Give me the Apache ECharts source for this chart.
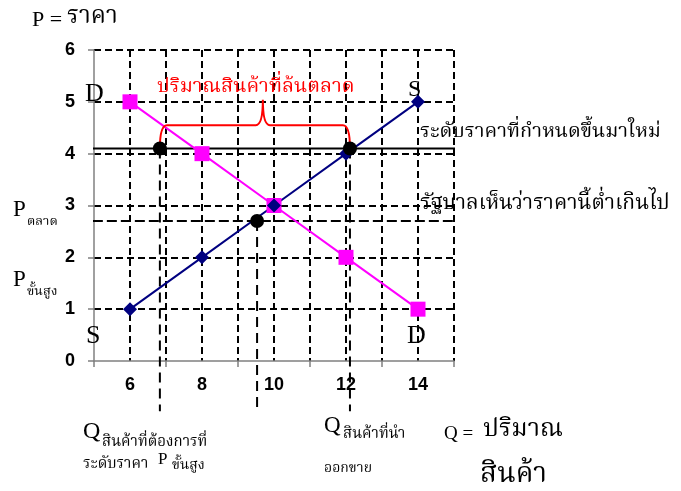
<!DOCTYPE html>
<html><head><meta charset="utf-8">
<script src="https://cdn.jsdelivr.net/npm/echarts@6/dist/echarts.min.js"></script>
<style>html,body{margin:0;padding:0;background:#fff}#c{width:681px;height:491px}</style>
</head><body><div id="c"></div>
<script>
// ---- data ----
const categories = ['6', '8', '10', '12', '14'];
const quantities = [6, 8, 10, 12, 14];
const supplyPrice = [1, 2, 3, 4, 5];
const demandPrice = [5, 4, 3, 2, 1];
const ceilingPrice = 4.1;          // ระดับราคาที่กำหนดขึ้นมาใหม่
const marketPrice = 2.7;           // P ตลาด
const qDemandAtCeiling = 6.83;
const qSupplyAtCeiling = 12.11;
const qMarket = 9.53;
const ceilingLineQ = [4.39, 15.53];
const marketLineQ = [4.19, 15.53];
const dropLineBottomP = -0.97;
const bracketBarP = 4.55;
const bracketPeakP = 5.04;
const bracketPeakQ = 9.69;
const yTicks = [0, 1, 2, 3, 4, 5, 6];

const THAI = '"Noto Serif Thai","Norasi","Kinnari","Noto Sans Thai","Loma","Garuda","TlwgTypo","DejaVu Sans",serif';
const SERIF = '"Liberation Serif","Times New Roman",' + THAI;

function T(text, x, base, size, opts) {
  opts = opts || {};
  return {
    type: 'text', x: x, y: base - 0.33 * size, silent: true, z: 100,
    style: {
      text: text, font: (opts.weight || 'normal') + ' ' + size + 'px ' + (opts.family || SERIF),
      fill: opts.color || '#000', verticalAlign: 'middle', align: opts.align || 'left'
    }
  };
}

const chart = echarts.init(document.getElementById('c'), null, {renderer: 'canvas'});

const dropLines = [qDemandAtCeiling, qMarket, qSupplyAtCeiling].map(function (q, i) {
  const top = i === 1 ? marketPrice : ceilingPrice;
  return {
    type: 'line', xAxisIndex: 1, yAxisIndex: 0, clip: false, symbol: 'none', z: 4,
    data: [[q, top], [q, dropLineBottomP]],
    lineStyle: {color: '#000', width: 2, type: [10, 6]}
  };
});

const labelFont = '"Liberation Sans", Arial, sans-serif';

const option = {
  animation: false,
  backgroundColor: '#fff',
  grid: {left: 94, right: 227, top: 50, bottom: 130},
  xAxis: [
    {
      type: 'category', data: categories, boundaryGap: true, position: 'bottom',
      axisLine: {lineStyle: {color: '#808080', width: 1.5}},
      axisTick: {show: true, length: 6, lineStyle: {color: '#808080', width: 1.5}},
      axisLabel: {margin: 15, color: '#000', fontWeight: 'bold', fontSize: 18, fontFamily: labelFont},
      splitLine: {show: false}
    },
    {
      type: 'value', min: 5, max: 15, interval: 1, position: 'top',
      axisLine: {show: false}, axisTick: {show: false}, axisLabel: {show: false},
      splitLine: {show: true, showMinLine: false, showMaxLine: true, lineStyle: {color: '#000', width: 2, type: [7, 4]}}
    }
  ],
  yAxis: [{
    type: 'value', min: 0, max: 6, interval: 1,
    axisLine: {show: true, lineStyle: {color: '#808080', width: 1.5}},
    axisTick: {show: true, length: 6, lineStyle: {color: '#808080', width: 1.5}},
    axisLabel: {margin: 19, color: '#000', fontWeight: 'bold', fontSize: 18, fontFamily: labelFont,
      formatter: function (v) { return yTicks.indexOf(v) >= 0 ? String(v) : ''; }},
    splitLine: {show: true, showMinLine: false, showMaxLine: true, lineStyle: {color: '#000', width: 2, type: [7, 4]}}
  }],
  series: [
    {
      name: 'ceiling', type: 'line', xAxisIndex: 1, yAxisIndex: 0, clip: false, symbol: 'none', z: 3,
      data: [[ceilingLineQ[0], ceilingPrice], [ceilingLineQ[1], ceilingPrice]],
      lineStyle: {color: '#000', width: 2}
    },
    {
      name: 'market', type: 'line', xAxisIndex: 1, yAxisIndex: 0, clip: false, symbol: 'none', z: 3,
      data: [[marketLineQ[0], marketPrice], [marketLineQ[1], marketPrice]],
      lineStyle: {color: '#000', width: 2, type: [10, 4]}
    }
  ].concat(dropLines).concat([
    {
      name: 'D', type: 'line', xAxisIndex: 1, yAxisIndex: 0, z: 5,
      data: quantities.map(function (q, i) { return [q, demandPrice[i]]; }),
      lineStyle: {color: '#ff00ff', width: 2}, itemStyle: {color: '#ff00ff'},
      symbol: 'rect', symbolSize: 15
    },
    {
      name: 'S', type: 'line', xAxisIndex: 1, yAxisIndex: 0, z: 5,
      data: quantities.map(function (q, i) { return [q, supplyPrice[i]]; }),
      lineStyle: {color: '#000080', width: 2}, itemStyle: {color: '#000080'},
      symbol: 'diamond', symbolSize: 14
    },
    {
      name: 'points', type: 'scatter', xAxisIndex: 1, yAxisIndex: 0, z: 6, symbolSize: 14,
      itemStyle: {color: '#000', opacity: 1},
      data: [[qDemandAtCeiling, ceilingPrice], [qSupplyAtCeiling, ceilingPrice], [qMarket, marketPrice]]
    },
    {
      name: 'bracket', type: 'custom', xAxisIndex: 1, yAxisIndex: 0, z: 6,
      data: [[qDemandAtCeiling, qSupplyAtCeiling, bracketPeakQ, ceilingPrice, bracketBarP, bracketPeakP]],
      renderItem: function (params, api) {
        const a = api.coord([api.value(0), api.value(3)]);
        const b = api.coord([api.value(1), api.value(3)]);
        const pk = api.coord([api.value(2), api.value(5)]);
        const yb = api.coord([api.value(0), api.value(4)])[1];
        const r = 7;
        const d = 'M' + a[0] + ',' + a[1] + ' Q' + a[0] + ',' + yb + ' ' + (a[0] + r) + ',' + yb +
          ' L' + (pk[0] - r) + ',' + yb + ' Q' + pk[0] + ',' + yb + ' ' + pk[0] + ',' + pk[1] +
          ' Q' + pk[0] + ',' + yb + ' ' + (pk[0] + r) + ',' + yb +
          ' L' + (b[0] - r) + ',' + yb + ' Q' + b[0] + ',' + yb + ' ' + b[0] + ',' + b[1];
        return {type: 'path', shape: {pathData: d}, style: {stroke: '#ff0000', fill: null, lineWidth: 2}};
      }
    }
  ]),
  graphic: [
    T('P = ', 32, 27, 22),
    T('ราคา', 67, 27, 24, {family: THAI}),
    T('D', 85, 103, 26),
    T('S', 408, 98, 24),
    T('S', 86, 345, 26),
    T('D', 407, 345, 26),
    T('ปริมาณสินค้าที่ล้นตลาด', 157, 95, 20, {color: '#ff0000', family: THAI}),
    T('ระดับราคาที่กำหนดขึ้นมาใหม่', 420, 140, 20, {family: THAI}),
    T('รัฐบาลเห็นว่าราคานี้ต่ำเกินไป', 420, 212, 21, {family: THAI}),
    T('P', 13, 218, 23),
    T('ตลาด', 27, 227, 13, {family: THAI}),
    T('P', 13, 288, 23),
    T('ขั้นสูง', 27, 297, 13, {family: THAI}),
    T('Q', 83, 440, 24),
    T('สินค้าที่ต้องการที่', 102, 448, 15, {family: THAI}),
    T('ระดับราคา', 83, 470, 15, {family: THAI}),
    T('P', 158, 465, 17),
    T('ขั้นสูง', 172, 471, 14, {family: THAI}),
    T('Q', 324, 434, 23),
    T('สินค้าที่นำ', 343, 440, 15, {family: THAI}),
    T('ออกขาย', 324, 474, 14, {family: THAI}),
    T('Q = ', 444, 440, 19),
    T('ปริมาณ', 483, 440, 25, {family: THAI}),
    T('สินค้า', 480, 487, 28, {family: THAI})
  ]
};
chart.setOption(option);
</script>
</body></html>
